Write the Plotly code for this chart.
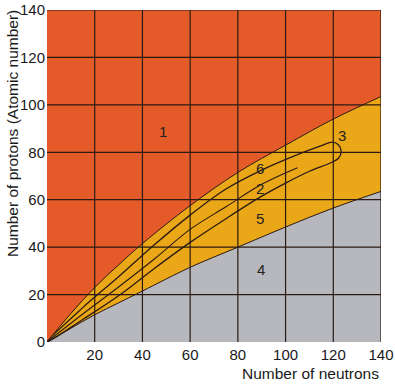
import plotly.graph_objects as go

# ---- data ----
bound_x = [0, 10, 20, 30, 40, 60, 80, 100, 120, 140]
upper_bound_y = [0, 12, 23, 32.5, 41.5, 57.5, 71.5, 83, 94, 103.5]
lower_bound_y = [0, 5.8, 11.5, 16.5, 21.5, 31.5, 40, 48.5, 56.5, 63.5]

loop_x = [0, 15, 30, 45, 60, 75, 90, 105, 115, 119.5, 122, 123.3, 122.2, 119,
          110, 100, 90, 75, 60, 45, 30, 15, 0]
loop_y = [0, 14.5, 27.5, 41, 53.5, 64.5, 72.5, 79, 82.8, 84.3, 83.3, 80.5, 77.5, 75.6,
          72, 67, 61.5, 52, 42, 31, 19.5, 9.5, 0]

mid_x = [0, 15, 30, 45, 60, 75, 90, 105]
mid_y = [0, 11.8, 23.2, 35, 47.5, 57, 66.5, 73.5]

region_labels = ["1", "3", "6", "2", "5", "4"]
label_x = [48.7, 123.5, 89.3, 89.3, 89.3, 89.6]
label_y = [88.6, 87.2, 73.3, 64.7, 52, 30.7]

x_ticks = [20, 40, 60, 80, 100, 120, 140]
y_ticks = [0, 20, 40, 60, 80, 100, 120, 140]

RED = "#E55A29"
YELLOW = "#EAA718"
GREY = "#B6B8BE"
INK = "#2a1a12"
FONT = "Liberation Sans, Arial, sans-serif"

W, H = 395, 391
ML, MR, MT, MB = 47, 14, 10, 49
plot_w = W - ML - MR
plot_h = H - MT - MB

fig = go.Figure()
fig.add_trace(go.Scatter(x=bound_x, y=upper_bound_y, mode="lines", line=dict(color=INK, width=1, shape="spline"),
                         fill="tozeroy", fillcolor=YELLOW, hoverinfo="skip"))
fig.add_trace(go.Scatter(x=bound_x, y=lower_bound_y, mode="lines", line=dict(color=INK, width=1, shape="spline"),
                         fill="tozeroy", fillcolor=GREY, hoverinfo="skip"))
fig.add_trace(go.Scatter(x=loop_x, y=loop_y, mode="lines", line=dict(color=INK, width=1.3, shape="spline"),
                         hoverinfo="skip"))
fig.add_trace(go.Scatter(x=mid_x, y=mid_y, mode="lines", line=dict(color=INK, width=1.1, shape="spline"),
                         hoverinfo="skip"))

shapes = []
for v in x_ticks:
    shapes.append(dict(type="line", xref="x", yref="paper", x0=v, x1=v, y0=0, y1=1,
                       line=dict(color=INK, width=1.2), layer="above"))
for v in y_ticks[1:]:
    shapes.append(dict(type="line", xref="paper", yref="y", x0=0, x1=1, y0=v, y1=v,
                       line=dict(color=INK, width=1.2), layer="above"))

annotations = []
for t, xv, yv in zip(region_labels, label_x, label_y):
    annotations.append(dict(x=xv, y=yv, text=t, showarrow=False, xref="x", yref="y",
                            font=dict(size=15, color="#222", family=FONT)))
annotations.append(dict(x=1, y=(H - MB - 373) / plot_h, xref="paper", yref="paper",
                        text="Number of neutrons", showarrow=False, xanchor="right", yanchor="middle",
                        font=dict(size=15.5, color="#1a1a1a", family=FONT)))
annotations.append(dict(x=(12.5 - ML) / plot_w, y=(H - MB - 133.5) / plot_h, xref="paper", yref="paper",
                        text="Number of protons (Atomic number)", showarrow=False, textangle=-90,
                        xanchor="center", yanchor="middle",
                        font=dict(size=15.5, color="#1a1a1a", family=FONT)))

fig.update_layout(
    width=W, height=H,
    margin=dict(l=ML, r=MR, t=MT, b=MB, autoexpand=False),
    paper_bgcolor="white", plot_bgcolor=RED,
    showlegend=False,
    shapes=shapes,
    annotations=annotations,
    font=dict(family=FONT, size=15, color="#1a1a1a"),
    xaxis=dict(range=[0, 140], tickvals=x_ticks, ticktext=[str(v) for v in x_ticks], showgrid=False,
               zeroline=False, showline=False, ticks="", ticklabelstandoff=2, automargin=False,
               fixedrange=True),
    yaxis=dict(range=[0, 140], tickvals=y_ticks, ticktext=[str(v) for v in y_ticks], showgrid=False,
               zeroline=False, showline=False, ticks="", ticklabelstandoff=1, automargin=False,
               fixedrange=True),
)

fig.write_html("out.html", config={"displayModeBar": False},
               post_script="document.body.style.margin='0';document.body.style.overflow='hidden';")
